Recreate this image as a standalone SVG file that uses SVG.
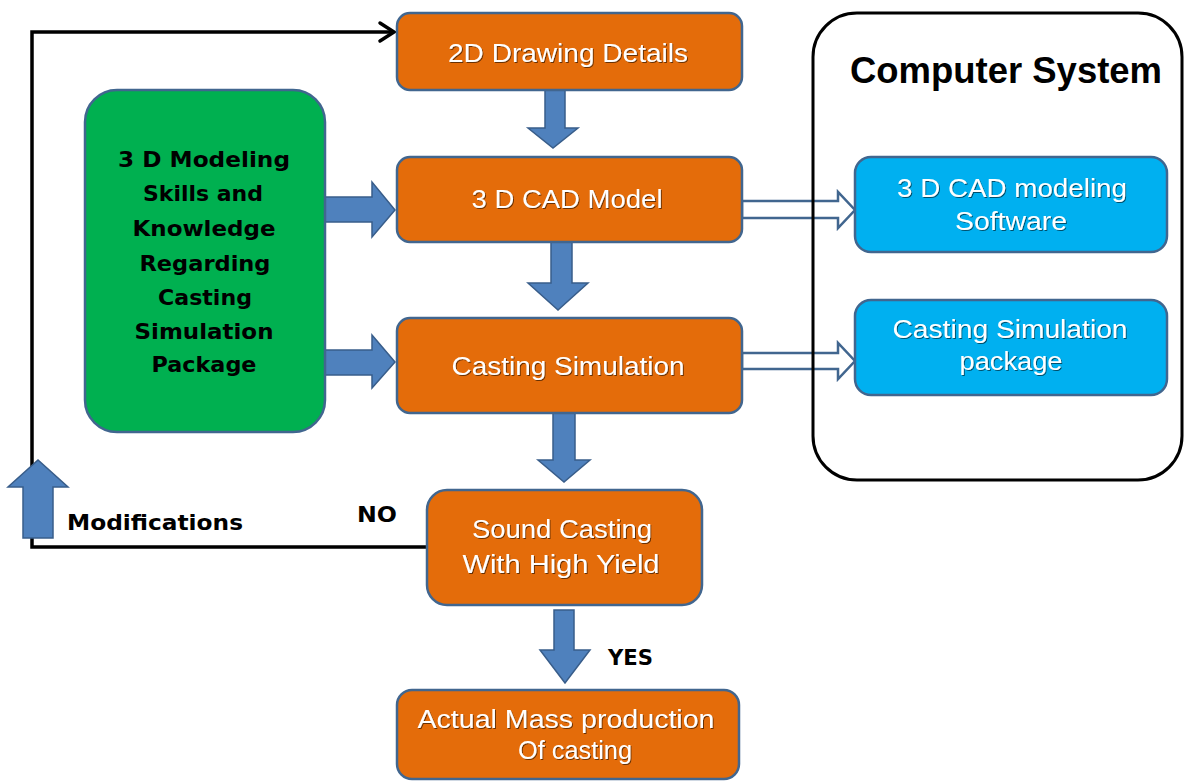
<svg xmlns="http://www.w3.org/2000/svg" width="1187" height="783" viewBox="0 0 1187 783">
<defs>
<filter id="sh" x="-5%" y="-20%" width="110%" height="140%">
<feDropShadow dx="1" dy="1" stdDeviation="0.6" flood-color="#000" flood-opacity="0.55"/>
</filter>
</defs>
<style>
.orange{fill:#E46C0A;stroke:#41668F;stroke-width:2.5}
.green{fill:#00B050;stroke:#41668F;stroke-width:2.5}
.cyan{fill:#00B0F0;stroke:#41668F;stroke-width:2.5}
.wt{font-family:"Liberation Sans",Arial,sans-serif;font-size:26px;fill:#FFFFFF;text-anchor:middle;filter:url(#sh)}
.bt{font-family:"DejaVu Sans","Liberation Sans",sans-serif;font-weight:bold;font-size:22px;fill:#000;text-anchor:middle}
.lbl{font-family:"DejaVu Sans","Liberation Sans",sans-serif;font-weight:bold;font-size:22px;fill:#000}
.blk{fill:#4F81BD;stroke:#385D8A;stroke-width:1.5}
.hol{fill:#FFFFFF;stroke:#41668F;stroke-width:2.5}
.fb{fill:none;stroke:#000;stroke-width:3.5;stroke-linejoin:miter}
</style>
<rect width="1187" height="783" fill="#FFFFFF"/>

<g id="connectors">
<path class="fb" d="M427,547 H32 V32 H392"/>
<path class="fb" d="M380,23 L394,32 L380,41" stroke-linecap="round"/>
<polygon class="blk" points="545,90 565,90 565,128 578,128 553,148 528,128 545,128"/>
<polygon class="blk" points="551,242 572,242 572,283 588,283 558,310 528,283 551,283"/>
<polygon class="blk" points="553,413 575,413 575,460 590,460 564,482 538,460 553,460"/>
<polygon class="blk" points="554,610 574,610 574,650 590,650 565,683 540,650 554,650"/>
<polygon class="blk" points="325,197 372,197 372,182 395,210 372,237 372,222 325,222"/>
<polygon class="blk" points="325,350 372,350 372,335 395,362 372,388 372,375 325,375"/>
<polygon class="blk" points="23,538 23,487 8,487 38,460 68,487 53,487 53,538"/>
<polygon class="hol" points="742,201 838,201 838,192 855,210 838,228 838,218 742,218"/>
<polygon class="hol" points="742,353 838,353 838,343 855,361 838,379 838,369 742,369"/>
</g>

<g id="computer-system">
<rect x="813" y="13" width="369" height="467" rx="44" ry="44" fill="none" stroke="#000" stroke-width="3"/>
<text x="1006" y="83" font-family="'Liberation Sans',Arial,sans-serif" font-weight="bold" font-size="36" text-anchor="middle" textLength="312" lengthAdjust="spacingAndGlyphs">Computer System</text>
</g>

<g id="node-2d">
<rect class="orange" x="397" y="13" width="345" height="77" rx="13"/>
<text class="wt" x="568" y="62" textLength="240" lengthAdjust="spacingAndGlyphs">2D Drawing Details</text>
</g>

<g id="node-cad">
<rect class="orange" x="397" y="157" width="345" height="85" rx="13"/>
<text class="wt" x="567" y="208" textLength="191" lengthAdjust="spacingAndGlyphs">3 D CAD Model</text>
</g>

<g id="node-sim">
<rect class="orange" x="397" y="318" width="345" height="95" rx="13"/>
<text class="wt" x="568" y="375" textLength="233" lengthAdjust="spacingAndGlyphs">Casting Simulation</text>
</g>

<g id="node-sound">
<rect class="orange" x="427" y="490" width="275" height="115" rx="20"/>
<text class="wt" x="562" y="538" textLength="180" lengthAdjust="spacingAndGlyphs">Sound Casting</text>
<text class="wt" x="561" y="573" textLength="197" lengthAdjust="spacingAndGlyphs">With  High Yield</text>
</g>

<g id="node-mass">
<rect class="orange" x="397" y="690" width="342" height="89" rx="15"/>
<text class="wt" x="566" y="728" textLength="297" lengthAdjust="spacingAndGlyphs">Actual Mass production</text>
<text class="wt" x="575" y="759" textLength="114" lengthAdjust="spacingAndGlyphs">Of casting</text>
</g>

<g id="node-skills">
<rect class="green" x="85" y="90" width="240" height="342" rx="32"/>
<text class="bt" x="204" y="167" textLength="172" lengthAdjust="spacingAndGlyphs">3 D Modeling</text>
<text class="bt" x="203" y="201" textLength="120" lengthAdjust="spacingAndGlyphs">Skills and</text>
<text class="bt" x="204" y="236" textLength="143" lengthAdjust="spacingAndGlyphs">Knowledge</text>
<text class="bt" x="205" y="271" textLength="131" lengthAdjust="spacingAndGlyphs">Regarding</text>
<text class="bt" x="205" y="305" textLength="94" lengthAdjust="spacingAndGlyphs">Casting</text>
<text class="bt" x="204" y="339" textLength="139" lengthAdjust="spacingAndGlyphs">Simulation</text>
<text class="bt" x="204" y="372" textLength="105" lengthAdjust="spacingAndGlyphs">Package</text>
</g>

<g id="node-cad-software">
<rect class="cyan" x="855" y="157" width="312" height="95" rx="16"/>
<text class="wt" x="1012" y="197" textLength="230" lengthAdjust="spacingAndGlyphs">3 D CAD modeling</text>
<text class="wt" x="1011" y="230" textLength="112" lengthAdjust="spacingAndGlyphs">Software</text>
</g>

<g id="node-sim-package">
<rect class="cyan" x="855" y="300" width="312" height="95" rx="16"/>
<text class="wt" x="1010" y="338" textLength="235" lengthAdjust="spacingAndGlyphs">Casting Simulation</text>
<text class="wt" x="1011" y="370" textLength="103" lengthAdjust="spacingAndGlyphs">package</text>
</g>

<g id="labels">
<text class="lbl" x="67" y="530" textLength="176" lengthAdjust="spacingAndGlyphs">Modifications</text>
<text class="lbl" x="357" y="522" textLength="40" lengthAdjust="spacingAndGlyphs">NO</text>
<text class="lbl" x="608" y="665" textLength="45" lengthAdjust="spacingAndGlyphs">YES</text>
</g>
</svg>
